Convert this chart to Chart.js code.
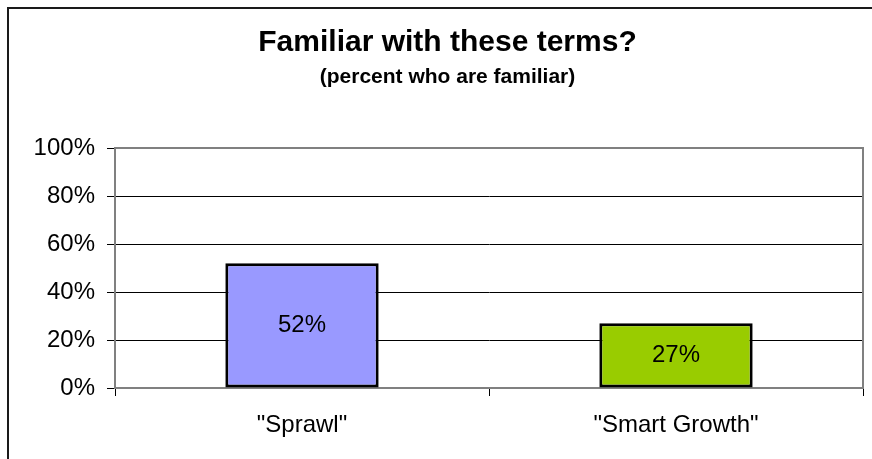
<!DOCTYPE html>
<html>
<head>
<meta charset="utf-8">
<script src="https://cdn.jsdelivr.net/npm/chart.js@4/dist/chart.umd.min.js"></script>
<style>
  html, body { margin: 0; padding: 0; background: #fff; }
  canvas { display: block; }
</style>
</head>
<body>
<canvas id="chart" width="872" height="459"></canvas>
<script>
// Survey answers: share of respondents familiar with each term
const categories = ['"Sprawl"', '"Smart Growth"'];
const familiarPercent = [52, 27];
const barColors = ['#9999FF', '#99CC00'];
const yTicks = [0, 20, 40, 60, 80, 100];

const FONT = '"Liberation Sans", Arial, Helvetica, sans-serif';
Chart.defaults.font.family = FONT;
Chart.defaults.color = '#000';

// Frame around the whole chart plus the grey plot-area border
const framePlugin = {
  id: 'frame',
  beforeDraw(chart) {
    const ctx = chart.ctx;
    ctx.save();
    ctx.fillStyle = '#fff';
    ctx.fillRect(0, 0, chart.width, chart.height);
    ctx.strokeStyle = '#1a1a1a';
    ctx.lineWidth = 2;
    ctx.strokeRect(8, 8, chart.width + 20, chart.height + 20);
    ctx.restore();
  },
  afterDraw(chart) {
    const a = chart.chartArea;
    const ctx = chart.ctx;
    ctx.save();
    ctx.strokeStyle = '#808080';
    ctx.lineWidth = 2;
    ctx.beginPath();
    ctx.moveTo(a.left, a.top);
    ctx.lineTo(a.right, a.top);
    ctx.lineTo(a.right, a.bottom);
    ctx.stroke();
    ctx.restore();
  }
};

// Value printed in the middle of each bar
const valueLabelPlugin = {
  id: 'valueLabels',
  afterDatasetsDraw(chart) {
    const ctx = chart.ctx;
    const meta = chart.getDatasetMeta(0);
    const values = chart.data.datasets[0].data;
    ctx.save();
    ctx.font = '24px ' + FONT;
    ctx.fillStyle = '#000';
    ctx.textAlign = 'center';
    ctx.textBaseline = 'middle';
    meta.data.forEach((bar, i) => {
      const p = bar.getProps(['x', 'y', 'base'], true);
      ctx.fillText(values[i] + '%', p.x, (p.y + p.base) / 2);
    });
    ctx.restore();
  }
};

new Chart(document.getElementById('chart'), {
  type: 'bar',
  data: {
    labels: categories,
    datasets: [{
      data: familiarPercent,
      backgroundColor: barColors,
      borderColor: '#000',
      borderWidth: 3,
      borderSkipped: false,
      barPercentage: 0.41,
      categoryPercentage: 1.0
    }]
  },
  options: {
    responsive: false,
    animation: false,
    layout: { padding: { left: 32, right: 9, top: 0, bottom: 0 } },
    plugins: {
      legend: { display: false },
      tooltip: { enabled: false },
      title: {
        display: true,
        text: 'Familiar with these terms?',
        color: '#000',
        font: { size: 30, weight: 'bold', lineHeight: 1.0 },
        padding: { top: 28, bottom: 0 }
      },
      subtitle: {
        display: true,
        text: '(percent who are familiar)',
        color: '#000',
        font: { size: 21, weight: 'bold', lineHeight: 1.0 },
        padding: { top: 9, bottom: 60 }
      }
    },
    scales: {
      x: {
        afterFit(scale) { scale.height = 71; },
        grid: {
          display: true,
          drawOnChartArea: false,
          drawTicks: true,
          tickLength: 8,
          tickColor: '#000',
          offset: true
        },
        border: { display: true, color: '#808080', width: 2 },
        ticks: {
          padding: 15,
          color: '#000',
          font: { size: 24 }
        }
      },
      y: {
        min: 0,
        max: 100,
        afterFit(scale) { scale.width = 83; },
        afterBuildTicks(scale) {
          scale.ticks = yTicks.map(v => ({ value: v }));
        },
        grid: {
          color: ctx => (ctx.tick && (ctx.tick.value === 100 || ctx.tick.value === 0)) ? '#808080' : '#000',
          lineWidth: 1,
          tickLength: 8,
          tickColor: '#000'
        },
        border: { display: true, color: '#808080', width: 2 },
        ticks: {
          padding: 12,
          color: '#000',
          font: { size: 24 },
          callback: v => v + '%'
        }
      }
    }
  },
  plugins: [framePlugin, valueLabelPlugin]
});
</script>
</body>
</html>
